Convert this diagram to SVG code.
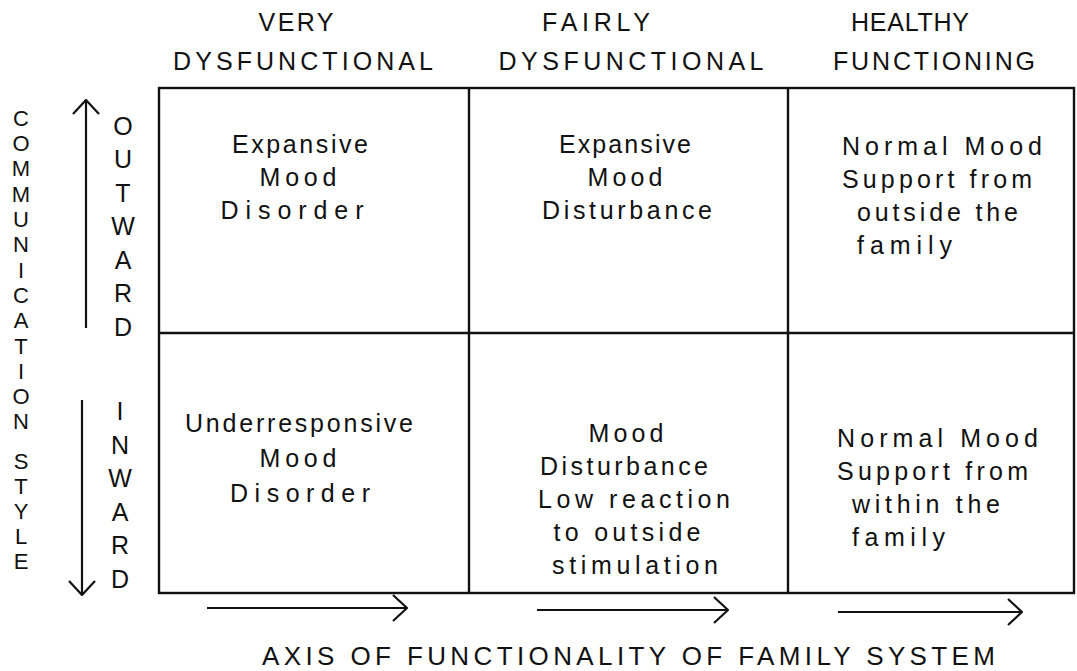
<svg xmlns="http://www.w3.org/2000/svg" width="1077" height="671" viewBox="0 0 1077 671">
<style>
  text { font-family: "Liberation Sans", Arial, sans-serif; fill: #111; }
  .hdr { font-size: 25px; text-anchor: middle; }
  .cell { font-size: 25px; text-anchor: middle; }
  .cl { font-size: 25px; text-anchor: start; }
  .vert { font-size: 25px; text-anchor: middle; }
  .vs { font-size: 22px; text-anchor: middle; }
  .axis { font-size: 26px; }
  .grid { fill: none; stroke: #111; stroke-width: 2.4; }
  .arr { fill: none; stroke: #111; stroke-width: 2.2; marker-end: url(#head); }
</style>
<defs>
  <marker id="head" markerUnits="userSpaceOnUse" viewBox="0 0 16 28" refX="15" refY="14" markerWidth="16" markerHeight="28" orient="auto">
    <path d="M1,1 L15,14 L1,27" fill="none" stroke="#111" stroke-width="2.2"/>
  </marker>
</defs>

<g id="headers">
  <text class="hdr" x="296" y="31" textLength="75" lengthAdjust="spacing">VERY</text>
  <text class="hdr" x="303" y="70" textLength="260" lengthAdjust="spacing">DYSFUNCTIONAL</text>
  <text class="hdr" x="596" y="31" textLength="108" lengthAdjust="spacing">FAIRLY</text>
  <text class="hdr" x="631" y="70" textLength="265" lengthAdjust="spacing">DYSFUNCTIONAL</text>
  <text class="hdr" x="910" y="31" textLength="118" lengthAdjust="spacing">HEALTHY</text>
  <text class="hdr" x="934" y="70" textLength="202" lengthAdjust="spacing">FUNCTIONING</text>
</g>

<g id="grid">
  <rect class="grid" x="159" y="88" width="915" height="505"/>
  <line class="grid" x1="469" y1="88" x2="469" y2="593"/>
  <line class="grid" x1="788" y1="88" x2="788" y2="593"/>
  <line class="grid" x1="159" y1="333" x2="1074" y2="333"/>
</g>

<g id="cell-very-outward">
  <text class="cell" x="300" y="153" textLength="136" lengthAdjust="spacing">Expansive</text>
  <text class="cell" x="298" y="186" textLength="77" lengthAdjust="spacing">Mood</text>
  <text class="cell" x="292" y="219" textLength="143" lengthAdjust="spacing">Disorder</text>
</g>
<g id="cell-fairly-outward">
  <text class="cell" x="625" y="153" textLength="132" lengthAdjust="spacing">Expansive</text>
  <text class="cell" x="625" y="186" textLength="75" lengthAdjust="spacing">Mood</text>
  <text class="cell" x="627" y="219" textLength="170" lengthAdjust="spacing">Disturbance</text>
</g>
<g id="cell-healthy-outward">
  <text class="cl" x="842" y="155" textLength="200" lengthAdjust="spacing">Normal Mood</text>
  <text class="cl" x="842" y="188" textLength="190" lengthAdjust="spacing">Support from</text>
  <text class="cl" x="857" y="221" textLength="161" lengthAdjust="spacing">outside the</text>
  <text class="cl" x="857" y="254" textLength="95" lengthAdjust="spacing">family</text>
</g>
<g id="cell-very-inward">
  <text class="cell" x="299" y="432" textLength="228" lengthAdjust="spacing">Underresponsive</text>
  <text class="cell" x="298" y="467" textLength="77" lengthAdjust="spacing">Mood</text>
  <text class="cell" x="300" y="502" textLength="140" lengthAdjust="spacing">Disorder</text>
</g>
<g id="cell-fairly-inward">
  <text class="cell" x="626" y="442" textLength="75" lengthAdjust="spacing">Mood</text>
  <text class="cell" x="624" y="475" textLength="168" lengthAdjust="spacing">Disturbance</text>
  <text class="cell" x="634" y="508" textLength="192" lengthAdjust="spacing">Low reaction</text>
  <text class="cell" x="627" y="541" textLength="147" lengthAdjust="spacing">to outside</text>
  <text class="cell" x="635" y="574" textLength="166" lengthAdjust="spacing">stimulation</text>
</g>
<g id="cell-healthy-inward">
  <text class="cl" x="837" y="447" textLength="201" lengthAdjust="spacing">Normal Mood</text>
  <text class="cl" x="837" y="480" textLength="191" lengthAdjust="spacing">Support from</text>
  <text class="cl" x="852" y="513" textLength="148" lengthAdjust="spacing">within the</text>
  <text class="cl" x="852" y="546" textLength="93" lengthAdjust="spacing">family</text>
</g>

<g id="axis-communication-style">
  <text class="vs">
    <tspan x="21" y="126">C</tspan><tspan x="21" y="151">O</tspan><tspan x="21" y="176">M</tspan><tspan x="21" y="202">M</tspan><tspan x="21" y="227">U</tspan><tspan x="21" y="252">N</tspan><tspan x="21" y="278">I</tspan><tspan x="21" y="303">C</tspan><tspan x="21" y="328">A</tspan><tspan x="21" y="354">T</tspan><tspan x="21" y="379">I</tspan><tspan x="21" y="404">O</tspan><tspan x="21" y="429">N</tspan><tspan x="21" y="469">S</tspan><tspan x="21" y="494">T</tspan><tspan x="21" y="519">Y</tspan><tspan x="21" y="544">L</tspan><tspan x="21" y="569">E</tspan>
  </text>
</g>
<g id="label-outward">
  <text class="vert">
    <tspan x="123" y="135">O</tspan><tspan x="123" y="168">U</tspan><tspan x="123" y="202">T</tspan><tspan x="123" y="235">W</tspan><tspan x="123" y="269">A</tspan><tspan x="123" y="302">R</tspan><tspan x="123" y="336">D</tspan>
  </text>
</g>
<g id="label-inward">
  <text class="vert">
    <tspan x="120" y="420">I</tspan><tspan x="120" y="454">N</tspan><tspan x="120" y="487">W</tspan><tspan x="120" y="521">A</tspan><tspan x="120" y="554">R</tspan><tspan x="120" y="588">D</tspan>
  </text>
</g>
<g id="axis-functionality">
  <text class="axis" x="262" y="665" textLength="733" lengthAdjust="spacing">AXIS OF FUNCTIONALITY OF FAMILY SYSTEM</text>
</g>

<g id="connectors">
  <line class="arr" x1="86" y1="328" x2="86" y2="100"/>
  <line class="arr" x1="82" y1="400" x2="82" y2="595"/>
  <line class="arr" x1="207" y1="608" x2="407" y2="608"/>
  <line class="arr" x1="537" y1="610" x2="728" y2="610"/>
  <line class="arr" x1="838" y1="612" x2="1022" y2="612"/>
</g>
</svg>
